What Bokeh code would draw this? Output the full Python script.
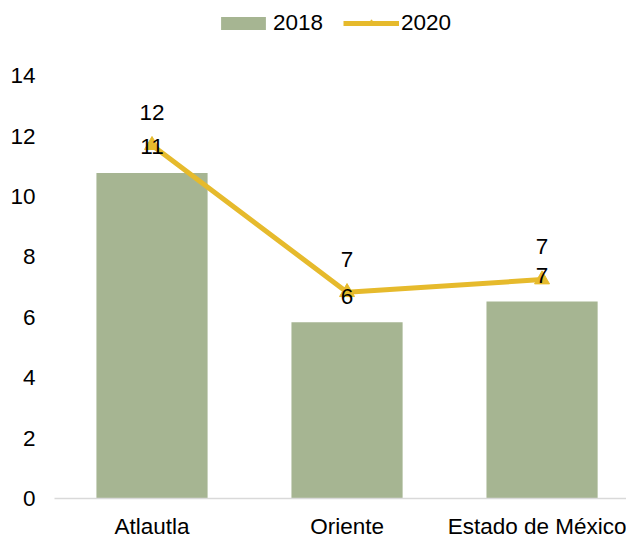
from bokeh.plotting import figure
from bokeh.models import (ColumnDataSource, Range1d, FixedTicker, Legend, LegendItem)
from bokeh.core.properties import value
from bokeh.embed import file_html
from bokeh.resources import INLINE

categories = ["Atlautla", "Oriente", "Estado de México"]
values_2018 = [10.78, 5.84, 6.52]
values_2020 = [11.7, 6.83, 7.25]
y_ticks = [0, 2, 4, 6, 8, 10, 12, 14]

BAR = "#A6B592"
LINE = "#E6BA2C"
FONT = "Liberation Sans"
FS = "22.5px"

xs = [i + 0.5 for i in range(len(categories))]
src = ColumnDataSource(dict(
    x=xs,
    cat=categories,
    v18=values_2018,
    v20=values_2020,
    l18=[str(int(v + 0.5)) for v in values_2018],
    l20=[str(int(v + 0.5)) for v in values_2020],
))

# y range extends above 14 to leave room for the legend inside the frame
p = figure(width=626, height=541, output_backend="svg", toolbar_location=None,
           x_range=Range1d(0, 2.933), y_range=Range1d(0, 16.49),
           min_border_left=54, min_border_right=0, min_border_top=0,
           min_border_bottom=37)
p.outline_line_color = None
p.xgrid.visible = False
p.ygrid.visible = False
p.background_fill_color = "white"
p.border_fill_color = "white"

bars = p.vbar(x="x", top="v18", width=0.57, source=src, fill_color=BAR,
              line_color=None)
line = p.line(x="x", y="v20", source=src, line_color=LINE, line_width=5)
marks = p.scatter(x="x", y="v20", source=src, marker="triangle", size=15,
                  fill_color=LINE, line_color=LINE)

p.text(x="x", y="v18", text="l18", source=src, text_align="center",
       text_baseline="middle", y_offset=-26, text_font=value(FONT),
       text_font_size=FS, text_color="black")
p.text(x="x", y="v20", text="l20", source=src, text_align="center",
       text_baseline="middle", y_offset=-33, text_font=value(FONT),
       text_font_size=FS, text_color="black")

# axes
p.xaxis.ticker = FixedTicker(ticks=xs)
p.xaxis.major_label_overrides = {x: c for x, c in zip(xs, categories)}
p.xaxis.major_tick_line_color = None
p.xaxis.minor_tick_line_color = None
p.xaxis.axis_line_color = "#D9D9D9"
p.xaxis.axis_line_width = 1.5
p.xaxis.major_label_text_font = FONT
p.xaxis.major_label_text_font_size = FS
p.xaxis.major_label_text_color = "black"
p.xaxis.major_label_standoff = 9

p.yaxis.ticker = FixedTicker(ticks=y_ticks)
p.yaxis.major_tick_line_color = None
p.yaxis.minor_tick_line_color = None
p.yaxis.axis_line_color = None
p.yaxis.major_label_text_font = FONT
p.yaxis.major_label_text_font_size = FS
p.yaxis.major_label_text_color = "black"
p.yaxis.major_label_standoff = 13

legend = Legend(items=[LegendItem(label="2018", renderers=[bars]),
                       LegendItem(label="2020", renderers=[line, marks])],
                orientation="horizontal", location=(161, 462),
                label_text_font=FONT, label_text_font_size=FS,
                label_text_color="black",
                glyph_width=56, glyph_height=16, spacing=20,
                label_standoff=2, padding=0, margin=0,
                border_line_color=None, background_fill_alpha=0)
p.add_layout(legend, "center")

open("out.html", "w").write(file_html(p, INLINE))
